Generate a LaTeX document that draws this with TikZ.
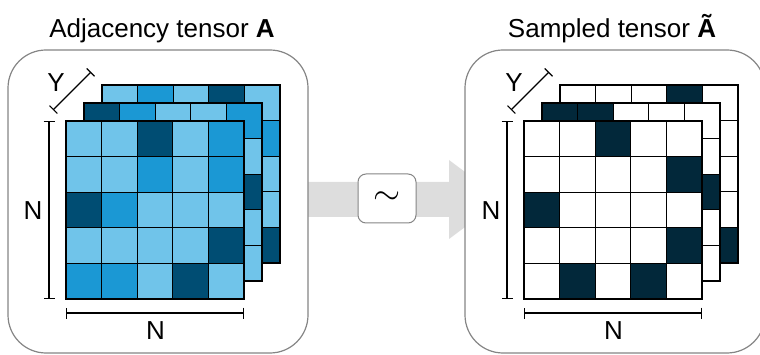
\documentclass[tikz,border=0pt]{standalone}
\usepackage{fontspec}
\setmainfont{Liberation Sans}
\usepackage{tikz}
\usetikzlibrary{arrows.meta}

\definecolor{cL}{HTML}{70C4EA}
\definecolor{cM}{HTML}{1B98D4}
\definecolor{cD}{HTML}{004D73}
\definecolor{cK}{HTML}{02283A}
\definecolor{cW}{HTML}{FFFFFF}
\definecolor{arrowgray}{HTML}{DDDDDD}
\definecolor{framegray}{HTML}{858585}

\newcommand{\celllayer}[3]{%
  \foreach \cellcol [count=\k from 0] in {#3} {%
    \pgfmathtruncatemacro{\rr}{div(\k,5)}%
    \pgfmathtruncatemacro{\cc}{mod(\k,5)}%
    \filldraw[cell, fill=\cellcol] ({#1+\cc*35.6},{#2+\rr*35.6}) rectangle ++(35.6,35.6);
  }}

\begin{document}
\begin{tikzpicture}[x=1pt,y=-1pt]

\tikzset{cell/.style = {draw=black, line width=1.1pt},
         panel/.style = {draw=framegray, fill=white, line width=1.2pt, rounded corners=38pt},
         simbox/.style = {draw=framegray, fill=white, line width=1pt, rounded corners=8pt,
                          minimum width=58pt, minimum height=49pt, inner sep=0pt},
         dimline/.style = {line width=1.2pt, {Bar[width=11pt]}-{Bar[width=11pt]}},
         title/.style = {font=\fontsize{26}{31}\selectfont, anchor=base, inner sep=0pt},
         lbl/.style = {font=\fontsize{26}{31}\selectfont, inner sep=0pt}}

\useasboundingbox (0,0) rectangle (760,355);

\fill[arrowgray] (300,182) -- (449,182) -- (449,160) -- (502,199.5)
                 -- (449,239) -- (449,217) -- (300,217) -- cycle;

\draw[panel] (8,50) rectangle (308,353);
\draw[panel] (465,50) rectangle (765,353);

\node[title] (titleA) at (162,37.5) {Adjacency tensor \textbf{A}};
\node[title] (titleS) at (612,37.5) {Sampled tensor \textbf{Ã}};

\node[simbox] (sim) at (387,198.5) {\raisebox{-3pt}{\scalebox{1.4}{\fontsize{26}{31}\selectfont$\sim$}}};

\celllayer{102}{85}{cL,cM,cL,cD,cL,
                    cL,cL,cL,cL,cM,
                    cL,cL,cL,cL,cL,
                    cL,cL,cL,cL,cL,
                    cL,cL,cL,cL,cD}
\celllayer{84}{103}{cD,cM,cL,cL,cM,
                    cL,cL,cL,cL,cL,
                    cL,cL,cL,cL,cD,
                    cL,cL,cL,cL,cL,
                    cL,cL,cL,cL,cL}
\celllayer{66}{121}{cL,cL,cD,cL,cM,
                    cL,cL,cM,cL,cM,
                    cD,cM,cL,cL,cL,
                    cL,cL,cL,cL,cD,
                    cM,cM,cL,cD,cL}

\celllayer{560}{85}{cW,cW,cW,cK,cW,
                    cW,cW,cW,cW,cW,
                    cW,cW,cW,cW,cW,
                    cW,cW,cW,cW,cW,
                    cW,cW,cW,cW,cK}
\celllayer{542}{103}{cK,cK,cW,cW,cW,
                     cW,cW,cW,cW,cW,
                     cW,cW,cW,cW,cK,
                     cW,cW,cW,cW,cW,
                     cW,cW,cW,cW,cW}
\celllayer{524}{121}{cW,cW,cK,cW,cW,
                     cW,cW,cW,cW,cK,
                     cK,cW,cW,cW,cW,
                     cW,cW,cW,cW,cK,
                     cW,cK,cW,cK,cW}

\coordinate (aYs) at (53,110);
\coordinate (aYe) at (91,72);
\coordinate (aNvs) at (49,121);
\coordinate (aNve) at (49,299);
\coordinate (aNhs) at (66,313);
\coordinate (aNhe) at (244,313);

\coordinate (sYs) at (511,110);
\coordinate (sYe) at (549,72);
\coordinate (sNvs) at (507,121);
\coordinate (sNve) at (507,299);
\coordinate (sNhs) at (524,313);
\coordinate (sNhe) at (702,313);

\draw[dimline] (aYs) -- (aYe);
\draw[dimline] (aNvs) -- (aNve);
\draw[dimline] (aNhs) -- (aNhe);
\draw[dimline] (sYs) -- (sYe);
\draw[dimline] (sNvs) -- (sNve);
\draw[dimline] (sNhs) -- (sNhe);

\node[lbl] (aY) at (56,82.5) {Y};
\node[lbl] (aNv) at (33,210.5) {N};
\node[lbl] (aNh) at (155.5,330.5) {N};
\node[lbl] (sY) at (514,82.5) {Y};
\node[lbl] (sNv) at (491,210.5) {N};
\node[lbl] (sNh) at (613.5,330.5) {N};

\end{tikzpicture}
\end{document}
